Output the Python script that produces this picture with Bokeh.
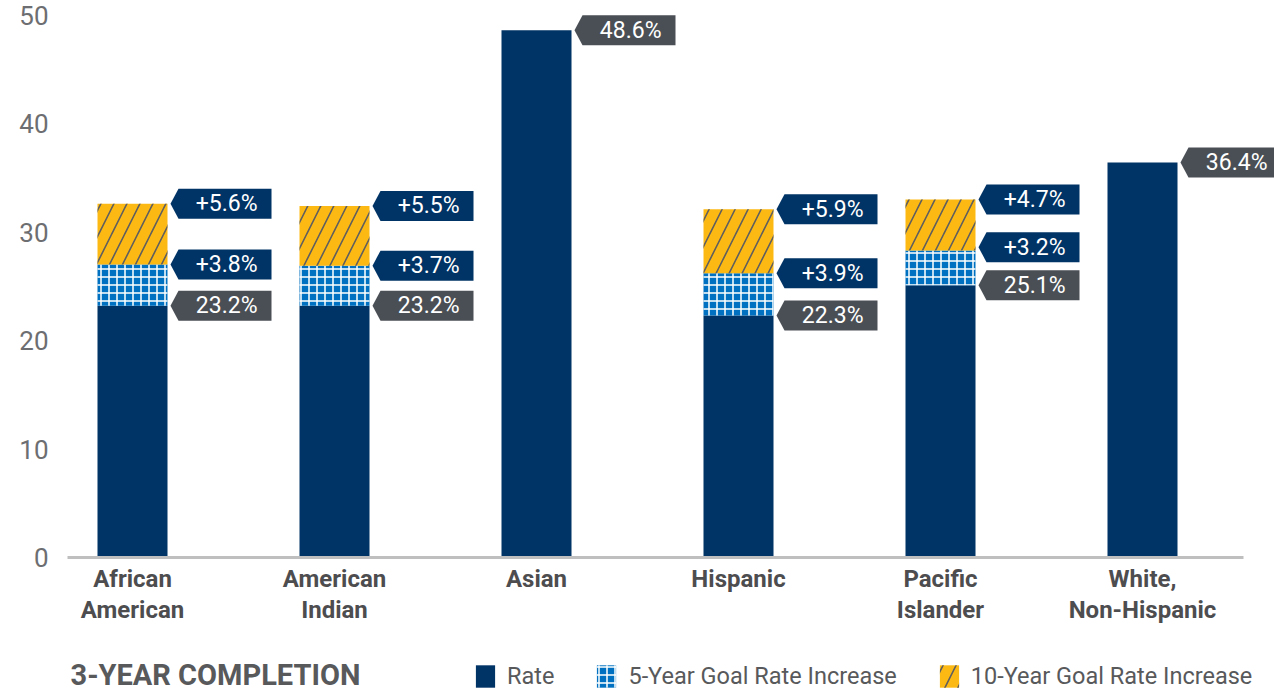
import numpy as np
from bokeh.plotting import figure
from bokeh.layouts import column
from bokeh.models import (ColumnDataSource, Range1d, FixedTicker, Legend,
                          LegendItem, Label)
from bokeh.core.properties import value
from bokeh.embed import file_html
from bokeh.resources import INLINE

# ---------------- data ----------------
groups = ["African\nAmerican", "American\nIndian", "Asian", "Hispanic",
          "Pacific\nIslander", "White,\nNon-Hispanic"]
rate = [23.2, 23.2, 48.6, 22.3, 25.1, 36.4]
goal5_increase = [3.8, 3.7, None, 3.9, 3.2, None]
goal10_increase = [5.6, 5.5, None, 5.9, 4.7, None]
y_ticks = [0, 10, 20, 30, 40, 50]
title_text = "3-YEAR COMPLETION"
legend_labels = ["Rate", "5-Year Goal Rate Increase", "10-Year Goal Rate Increase"]

# ---------------- styling / layout ----------------
FONT = "Roboto"
NAVY = "#003366"
GRID_BLUE = "#0070C0"
GOLD = "#FDB913"
GRAY_BOX = "#4A4F55"
HATCH_GRID = dict(hatch_pattern="+", hatch_color="white", hatch_scale=8, hatch_weight=1.5)
HATCH_DIAG = dict(hatch_pattern="/", hatch_color="#5E5E5E", hatch_scale=26, hatch_weight=1.6)

W = 1274
H1, H2 = 645, 46
LEFT = 67
FRAME_H = 557
PX_X = 202.0       # pixels per category
PX_Y = 10.85       # pixels per unit
BAR_W = 70 / PX_X

x_start = -65 / PX_X
x_end = x_start + (W - LEFT) / PX_X
y_end = FRAME_H / PX_Y

n = len(groups)
xs = list(range(n))
r = np.array(rate, dtype=float)
g5 = np.array([np.nan if v is None else v for v in goal5_increase])
g10 = np.array([np.nan if v is None else v for v in goal10_increase])
top5 = r + g5
top10 = top5 + g10

src = ColumnDataSource(dict(x=xs, rate=r, top5=top5, top10=top10))

p = figure(width=W, height=H1, output_backend="svg", toolbar_location=None,
           title=None, x_range=Range1d(x_start, x_end), y_range=Range1d(0, y_end),
           min_border_left=LEFT, min_border_right=0, min_border_top=0,
           min_border_bottom=H1 - FRAME_H)
p.outline_line_color = None
p.grid.visible = False
p.background_fill_color = "white"

p.vbar(x="x", bottom=0, top="rate", width=BAR_W, source=src,
       fill_color=NAVY, line_color=None)
p.vbar(x="x", bottom="rate", top="top5", width=BAR_W, source=src,
       fill_color=GRID_BLUE, line_color=None, **HATCH_GRID)
p.vbar(x="x", bottom="top5", top="top10", width=BAR_W, source=src,
       fill_color=GOLD, line_color=None, **HATCH_DIAG)

# ---------------- callout labels ----------------
px_x = 1 / PX_X
px_y = 1 / PX_Y
patch_xs, patch_ys, patch_col = [], [], []
tx, ty, tt = [], [], []
MIN_SEP = 38 * px_y
for i in range(n):
    items = [(r[i], f"{rate[i]}%", GRAY_BOX)]
    if not np.isnan(g5[i]):
        items.append((top5[i], f"+{goal5_increase[i]}%", NAVY))
    if not np.isnan(g10[i]):
        items.append((top10[i], f"+{goal10_increase[i]}%", NAVY))
    prev = None
    br = i + BAR_W / 2
    for yc, txt, col in items:
        if prev is not None and yc - prev < MIN_SEP:
            yc = prev + MIN_SEP
        prev = yc
        h = 15 * px_y
        patch_xs.append([br + 3 * px_x, br + 11 * px_x, br + 104 * px_x,
                         br + 104 * px_x, br + 11 * px_x])
        patch_ys.append([yc, yc + h, yc + h, yc - h, yc - h])
        patch_col.append(col)
        tx.append(br + 90 * px_x)
        ty.append(yc)
        tt.append(txt)

p.patches(xs="xs", ys="ys", fill_color="col", line_color=None,
          source=ColumnDataSource(dict(xs=patch_xs, ys=patch_ys, col=patch_col)))
p.text(x="x", y="y", text="t", source=ColumnDataSource(dict(x=tx, y=ty, t=tt)),
       text_font=value(FONT), text_font_size="23px", text_color="white",
       text_align="right", text_baseline="middle")

# ---------------- axes ----------------
xa = p.xaxis[0]
xa.ticker = FixedTicker(ticks=xs)
xa.major_label_overrides = {i: g for i, g in enumerate(groups)}
xa.bounds = (x_start, 5.5)
xa.axis_line_color = "#BFBFBF"
xa.axis_line_width = 3
xa.major_tick_line_color = None
xa.minor_tick_line_color = None
xa.major_label_standoff = 1
xa.major_label_text_font = FONT
xa.major_label_text_font_size = "24px"
xa.major_label_text_font_style = "bold"
xa.major_label_text_color = "#4D4D4F"
xa.major_label_text_line_height = 1.12

ya = p.yaxis[0]
ya.ticker = FixedTicker(ticks=y_ticks)
ya.axis_line_color = None
ya.major_tick_line_color = None
ya.minor_tick_line_color = None
ya.major_label_standoff = 13
ya.major_label_text_font = FONT
ya.major_label_text_font_size = "26px"
ya.major_label_text_color = "#6D6E71"

# ---------------- title + legend strip ----------------
p2 = figure(width=W, height=H2, output_backend="svg", toolbar_location=None,
            title=None, x_range=Range1d(LEFT, W), y_range=Range1d(0, H2),
            min_border_left=LEFT, min_border_right=0, min_border_top=0,
            min_border_bottom=0, x_axis_type=None, y_axis_type=None)
p2.outline_line_color = None
p2.grid.visible = False

# zero-height keys: they only feed the legend swatches
key = ColumnDataSource(dict(x=[LEFT], top=[0]))
k_rate = p2.vbar(x="x", top="top", width=1, source=key, fill_color=NAVY, line_color=None)
k_g5 = p2.vbar(x="x", top="top", width=1, source=key, fill_color=GRID_BLUE,
               line_color=None, **HATCH_GRID)
k_g10 = p2.vbar(x="x", top="top", width=1, source=key, fill_color=GOLD,
                line_color=None, **HATCH_DIAG)

p2.add_layout(Label(x=70, y=17, text=title_text, text_font=FONT,
                    text_font_size="29px", text_font_style="bold",
                    text_color="#58595B", text_baseline="middle"))

legend = Legend(items=[LegendItem(label=legend_labels[0], renderers=[k_rate]),
                       LegendItem(label=legend_labels[1], renderers=[k_g5]),
                       LegendItem(label=legend_labels[2], renderers=[k_g10])],
                location=(473 - LEFT, 1), orientation="horizontal",
                glyph_width=24, glyph_height=28, label_standoff=10, spacing=40,
                padding=0, margin=0, border_line_color=None,
                background_fill_alpha=0, label_text_font=FONT,
                label_text_font_size="23.5px", label_text_color="#58595B")
p2.add_layout(legend)

layout = column(p, p2, spacing=0)
open("out.html", "w").write(file_html(layout, INLINE))
